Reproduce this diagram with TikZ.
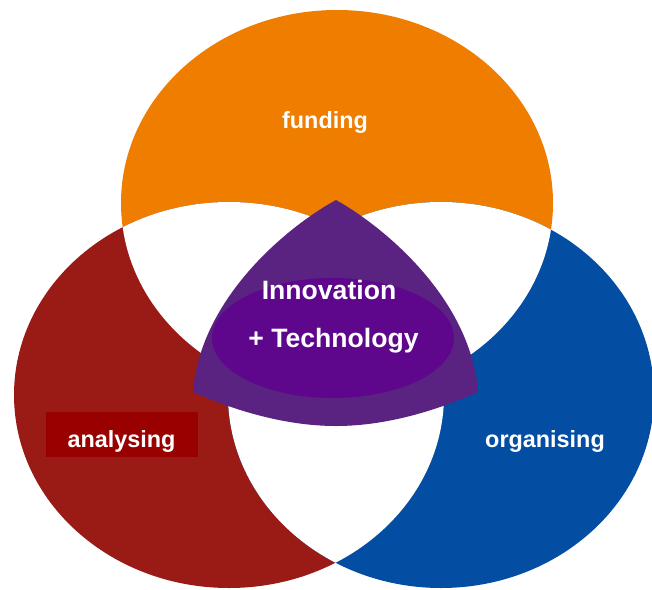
\documentclass[tikz,border=0pt]{standalone}
\usepackage{fontspec}
\setmainfont{Liberation Sans}
\definecolor{fundorange}{HTML}{EE7D00}
\definecolor{analysered}{HTML}{9A1A16}
\definecolor{organiseblue}{HTML}{034EA2}
\definecolor{innopurple}{HTML}{5A2281}
\definecolor{innodark}{HTML}{5E078C}
\definecolor{labelred}{HTML}{990000}

\begin{document}
\begin{tikzpicture}[x=1pt,y=-1pt,
setlabel/.style={inner sep=0pt,anchor=base,text=white,font=\bfseries\fontsize{23.4}{28}\selectfont},
corelabel/.style={inner sep=0pt,anchor=base,text=white,font=\bfseries\fontsize{26.6}{32}\selectfont}]

\useasboundingbox (0,0) rectangle (652,589);

% the three sets
\fill[fundorange] (337,203) ellipse [x radius=216,y radius=193];
\fill[analysered] (229,395) ellipse [x radius=215,y radius=193];
\fill[organiseblue] (441,395) ellipse [x radius=213,y radius=193];

% pairwise overlaps are white
\begin{scope}
\clip (337,203) ellipse [x radius=216,y radius=193];
\fill[white] (229,395) ellipse [x radius=215,y radius=193];
\fill[white] (441,395) ellipse [x radius=213,y radius=193];
\end{scope}
\begin{scope}
\clip (229,395) ellipse [x radius=215,y radius=193];
\fill[white] (441,395) ellipse [x radius=213,y radius=193];
\end{scope}

% centre
\coordinate (apex) at (336,200);
\coordinate (left) at (193,392);
\coordinate (bottom) at (336,426);
\coordinate (right) at (478,392);
\fill[innopurple] (apex) .. controls (285,228) and (200,300) .. (left)
  .. controls (240,413) and (290,426) .. (bottom)
  .. controls (382,426) and (431,413) .. (right)
  .. controls (471,300) and (386,228) .. (apex) -- cycle;
\fill[innodark] (333,338) ellipse [x radius=121,y radius=60];

\fill[labelred] (46,412) rectangle (198,457);

\node[setlabel] (funding) at (325,128) {funding};
\node[setlabel] (analysing) at (121.5,447) {analysing};
\node[setlabel] (organising) at (545,447) {organising};
\node[corelabel] (innovation) at (329,299) {Innovation};
\node[corelabel] (technology) at (333.5,347) {+ Technology};

\end{tikzpicture}
\end{document}
